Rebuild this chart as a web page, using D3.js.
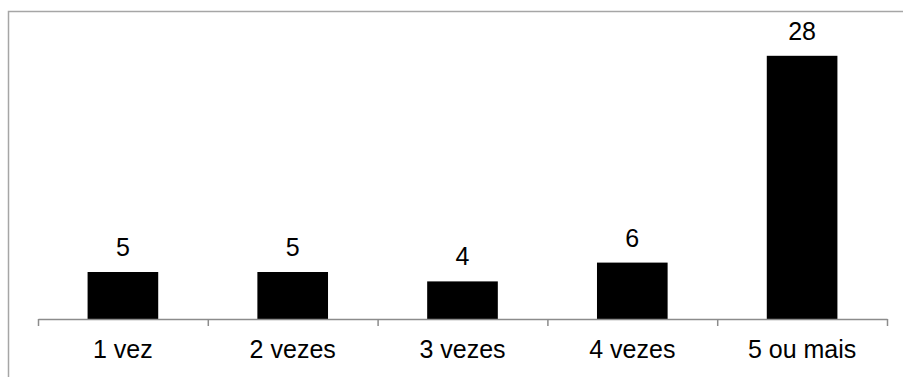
<!DOCTYPE html>
<html>
<head>
<meta charset="utf-8">
<script src="https://cdn.jsdelivr.net/npm/d3@7"></script>
<style>
  html, body { margin: 0; padding: 0; background: #fff; }
  svg { display: block; }
  text { font-family: "Liberation Sans", Arial, sans-serif; }
</style>
</head>
<body>
<svg id="chart" width="903" height="377"></svg>
<script>
const categories = ["1 vez", "2 vezes", "3 vezes", "4 vezes", "5 ou mais"];
const counts = [5, 5, 4, 6, 28];

const svg = d3.select("#chart");
const left = 38, right = 887, baseY = 319, topY = 37;

// outer frame
svg.append("rect")
  .attr("x", 8.5).attr("y", 11.5)
  .attr("width", 1000).attr("height", 1000)
  .attr("fill", "none").attr("stroke", "#a6a6a6").attr("stroke-width", 1.5);

const x = d3.scaleBand()
  .domain(categories)
  .range([left, right])
  .paddingInner(0.584)
  .paddingOuter(0.292);

const y = d3.scaleLinear().domain([0, 30]).range([baseY, topY]);

// bars
svg.append("g").selectAll("rect")
  .data(counts)
  .join("rect")
  .attr("x", (d, i) => x(categories[i]))
  .attr("y", d => y(d))
  .attr("width", x.bandwidth())
  .attr("height", d => y(0) - y(d))
  .attr("fill", "#000");

// value labels
svg.append("g").selectAll("text")
  .data(counts)
  .join("text")
  .attr("x", (d, i) => x(categories[i]) + x.bandwidth() / 2)
  .attr("y", d => y(d) - 16)
  .attr("text-anchor", "middle")
  .attr("font-size", 25)
  .attr("fill", "#000")
  .text(d => d);

// category axis with boundary ticks
const bounds = d3.scaleLinear().domain([0, categories.length]).range([left, right]);
const axisG = svg.append("g")
  .attr("transform", `translate(0,${baseY})`)
  .call(d3.axisBottom(bounds).ticks(categories.length).tickFormat("").tickSizeInner(7).tickSizeOuter(0));
axisG.select(".domain").attr("stroke", "#8c8c8c").attr("stroke-width", 1.5);
axisG.selectAll(".tick line").attr("stroke", "#8c8c8c").attr("stroke-width", 1.5);

const labelG = svg.append("g")
  .attr("transform", `translate(0,${baseY})`)
  .call(d3.axisBottom(x).tickSize(0).tickPadding(21));
labelG.select(".domain").remove();
labelG.selectAll("text")
  .attr("font-size", 25)
  .attr("fill", "#000")
  .style("font-family", "'Liberation Sans', Arial, sans-serif");
</script>
</body>
</html>
